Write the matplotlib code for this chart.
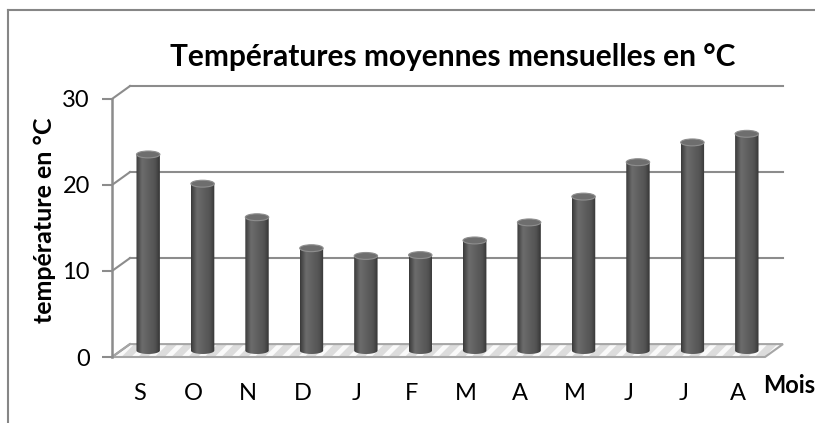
import numpy as np
import matplotlib
matplotlib.use("Agg")
import matplotlib.pyplot as plt
from matplotlib.colors import LinearSegmentedColormap
from matplotlib.patches import Polygon, Ellipse
from matplotlib.lines import Line2D

# ============================
# Data
# ============================
mois = ["S", "O", "N", "D", "J", "F", "M", "A", "M", "J", "J", "A"]
temperatures = [22.8, 19.4, 15.5, 11.9, 11.0, 11.1, 12.8, 14.9, 17.9, 21.9, 24.2, 25.2]
yticks = [0, 10, 20, 30]

# ============================
# Pseudo 3D settings
# ============================
DX = 0.33     # depth offset in x units
DY = 1.5      # depth offset in y units
BAR_W = 0.43
CAP_H = 0.8
GRID = "#8c8c8c"
FONT = "Lato"
plt.rcParams["hatch.linewidth"] = 5.0
plt.rcParams["hatch.color"] = "#dcdcdc"

W, H = 815, 423
fig = plt.figure(figsize=(W / 100, H / 100), dpi=100)
fig.patch.set_facecolor("white")

# axes placed so the front plane spans the original pixel area
ax = fig.add_axes([112 / W, (H - 357) / H, 671 / W, 271.8 / H])
ax.set_facecolor("none")

# back wall gridlines + depth diagonals
for v in yticks:
    ax.plot([-0.5, -0.5 + DX], [v, v + DY], color=GRID, lw=1.5, clip_on=False)
    if v > 0:
        ax.plot([-0.5 + DX, 11.5 + DX], [v + DY, v + DY], color=GRID, lw=1.5,
                clip_on=False)

# floor
floor_pts = [(-0.5, 0), (11.5, 0), (11.5 + DX, DY), (-0.5 + DX, DY)]
ax.add_patch(Polygon(floor_pts, closed=True, facecolor="#fafafa",
                     edgecolor="#dcdcdc", hatch="//", lw=0, zorder=1,
                     clip_on=False))
ax.add_patch(Polygon(floor_pts, closed=True, fill=False, edgecolor="#a6a6a6",
                     lw=1.5, zorder=2, clip_on=False))

# cylinders
cyl_cmap = LinearSegmentedColormap.from_list(
    "cyl", [(0, "#3a3a3a"), (0.25, "#6c6c6c"), (0.45, "#636363"),
            (0.8, "#535353"), (1, "#363636")])
grad = np.linspace(0, 1, 64).reshape(1, -1)
base = DY / 2
t = np.linspace(np.pi, 2 * np.pi, 40)
for i, val in enumerate(temperatures):
    xc = i + DX / 2
    x0, x1 = xc - BAR_W / 2, xc + BAR_W / 2
    top = base + val
    # outline: straight sides, rounded bottom
    bx = xc + BAR_W / 2 * np.cos(t)
    by = base + CAP_H / 2 * np.sin(t)
    pts = [(x0, top)] + list(zip(bx, by)) + [(x1, top)]
    shape = Polygon(pts, closed=True, facecolor="none", edgecolor="none")
    ax.add_patch(shape)
    im = ax.imshow(grad, cmap=cyl_cmap, aspect="auto", zorder=3,
                   extent=[x0, x1, base - CAP_H / 2, top])
    im.set_clip_path(shape)
    ax.add_patch(Ellipse((xc, top), BAR_W, CAP_H, facecolor="#6e6e6e",
                         edgecolor="#8e8e8e", lw=0.8, zorder=4, clip_on=False))

# front axis
ax.set_xlim(-0.5, 11.5 + DX)
ax.set_ylim(0, 31.6)
ax.set_aspect("auto")
for s in ["top", "right", "bottom"]:
    ax.spines[s].set_visible(False)
ax.spines["left"].set_bounds(0, 30)
ax.spines["left"].set_color(GRID)
ax.spines["left"].set_linewidth(1.8)
ax.set_yticks(yticks)
ax.set_yticklabels([str(v) for v in yticks], fontsize=17, family=FONT)
ax.tick_params(axis="y", length=7, width=1.5, color=GRID, pad=9)
ax.set_xticks(range(len(mois)))
ax.set_xticklabels(mois, fontsize=17, family=FONT)
ax.tick_params(axis="x", length=0, pad=19)

# texts
fig.text(453 / W, 1 - 57 / H, "Températures moyennes mensuelles en °C",
         ha="center", va="center", fontsize=21.5, fontweight="bold", family=FONT)
fig.text(45 / W, 1 - 220 / H, "température en °C", rotation=90,
         ha="center", va="center", fontsize=18, fontweight="bold", family=FONT)
fig.text(763 / W, 1 - 385 / H, "Mois", ha="left", va="center",
         fontsize=17, fontweight="bold", family=FONT)

# outer chart border
fig.add_artist(Line2D([8 / W, 1], [1 - 10 / H, 1 - 10 / H], color="#868686", lw=1.5))
fig.add_artist(Line2D([8 / W, 8 / W], [0, 1 - 10 / H], color="#868686", lw=1.5))

plt.savefig("out.png", dpi=100)
